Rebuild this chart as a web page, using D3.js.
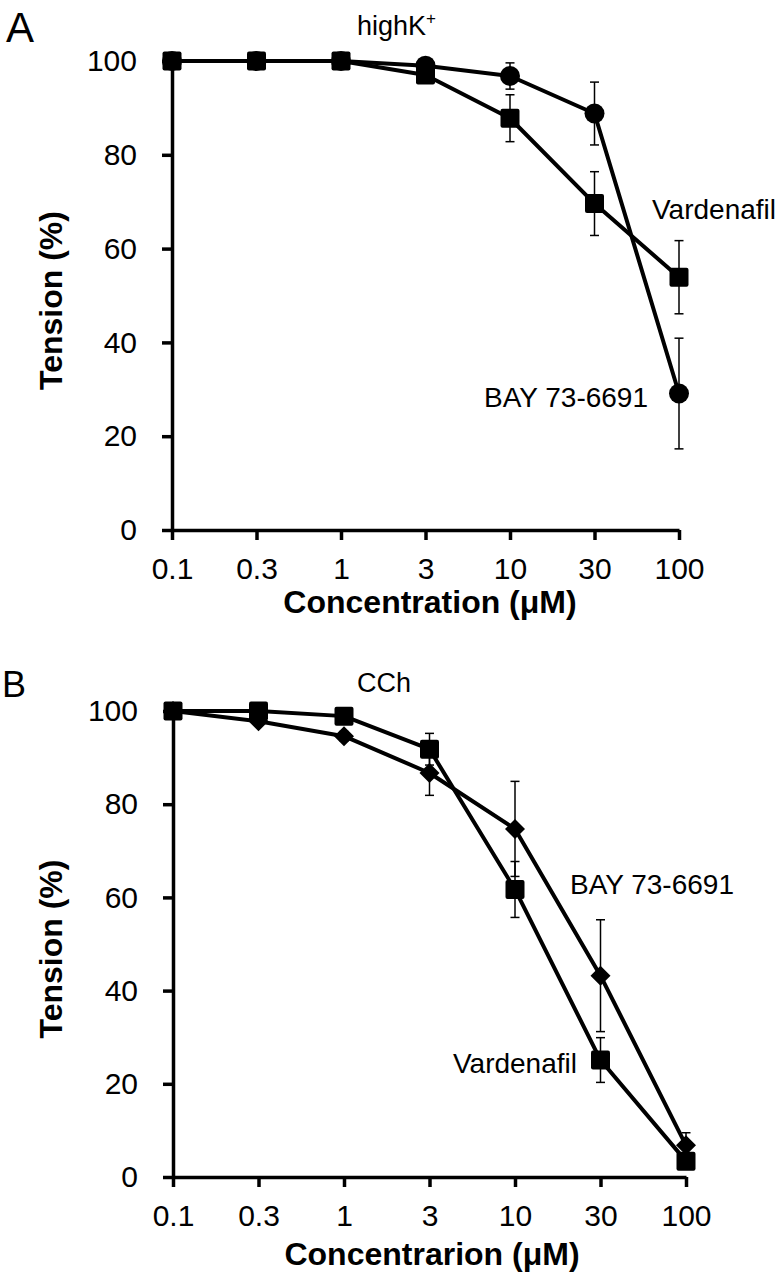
<!DOCTYPE html>
<html>
<head>
<meta charset="utf-8">
<script src="https://cdn.jsdelivr.net/npm/d3@7"></script>
<style>
  html, body { margin: 0; padding: 0; background: #fff; }
  svg { display: block; }
  text { font-family: "Liberation Sans", Arial, sans-serif; fill: #000; }
</style>
</head>
<body>
<div id="chart"></div>
<script>
// ---- Data ----
const concentrations = ["0.1", "0.3", "1", "3", "10", "30", "100"];
const yTicks = [0, 20, 40, 60, 80, 100];

// Panel A (highK+)
const aBayValues = [100, 100, 100, 99, 96.8, 88.8, 29.1];
const aBayErrors = [0, 0, 0, 0.5, 2.8, 6.7, 11.8];
const aVardValues = [100, 100, 100, 97, 87.8, 69.6, 53.9];
const aVardErrors = [0, 0, 0, 0.5, 5, 6.8, 7.8];

// Panel B (CCh)
const bBayValues = [100, 97.8, 94.6, 86.7, 74.7, 43.2, 6.8];
const bBayErrors = [0, 0.5, 1, 4.8, 10.2, 12, 2.7];
const bVardValues = [100, 100, 98.9, 91.8, 61.7, 25.1, 3.4];
const bVardErrors = [0, 0.5, 1, 3.4, 6, 4.8, 1];

const W = 782, H = 1279;
const svg = d3.select("#chart").append("svg").attr("width", W).attr("height", H);
svg.append("rect").attr("width", W).attr("height", H).attr("fill", "#fff");

function panel(cfg) {
  const x = d3.scalePoint().domain(concentrations).range([cfg.left, cfg.right]);
  const y = d3.scaleLinear().domain([0, 100]).range([cfg.bottom, cfg.top]);
  const g = svg.append("g");

  // axes
  const ya = g.append("g").attr("transform", `translate(${cfg.left},0)`)
    .call(d3.axisLeft(y).tickValues(yTicks).tickSize(10).tickSizeOuter(0).tickPadding(25));
  const xa = g.append("g").attr("transform", `translate(0,${cfg.bottom})`)
    .call(d3.axisBottom(x).tickSize(10).tickSizeOuter(0).tickPadding(18));
  [ya, xa].forEach(a => {
    a.selectAll("path.domain").attr("stroke", "#000").attr("stroke-width", 3.5);
    a.selectAll(".tick line").attr("stroke", "#000").attr("stroke-width", 3.5);
    a.selectAll(".tick text").style("font-size", "30px").style("font-family", '"Liberation Sans", Arial, sans-serif').attr("fill", "#000");
  });
  ya.attr("font-size", null).attr("font-family", null);
  xa.attr("font-size", null).attr("font-family", null);

  const line = d3.line().x((d, i) => x(concentrations[i])).y(d => y(d));

  function series(values, errors, shape) {
    const sg = g.append("g");
    // error bars
    values.forEach((v, i) => {
      const e = errors[i];
      if (e <= 0) return;
      const cx = x(concentrations[i]);
      sg.append("line").attr("x1", cx).attr("x2", cx).attr("y1", y(v + e)).attr("y2", y(v - e))
        .attr("stroke", "#000").attr("stroke-width", 1.5);
      [v + e, v - e].forEach(t => {
        sg.append("line").attr("x1", cx - 4.5).attr("x2", cx + 4.5).attr("y1", y(t)).attr("y2", y(t))
          .attr("stroke", "#000").attr("stroke-width", 1.5);
      });
    });
    sg.append("path").datum(values).attr("d", line).attr("fill", "none")
      .attr("stroke", "#000").attr("stroke-width", 4).attr("stroke-linejoin", "round");
    values.forEach((v, i) => {
      const cx = x(concentrations[i]), cy = y(v);
      if (shape === "square") {
        sg.append("rect").attr("x", cx - 9.5).attr("y", cy - 9.5).attr("width", 19).attr("height", 19)
          .attr("rx", 2).attr("fill", "#000");
      } else if (shape === "circle") {
        sg.append("circle").attr("cx", cx).attr("cy", cy).attr("r", 10).attr("fill", "#000");
      } else {
        sg.append("path").attr("d", `M${cx},${cy - 10}L${cx + 10},${cy}L${cx},${cy + 10}L${cx - 10},${cy}Z`)
          .attr("fill", "#000");
      }
    });
  }
  cfg.series.forEach(s => series(s.values, s.errors, s.shape));

  // axis titles
  g.append("text").attr("transform", `translate(${cfg.yTitleX},${(cfg.top + cfg.bottom) / 2 + 5}) rotate(-90)`)
    .attr("text-anchor", "middle").style("font-size", "32px").style("font-weight", "bold").text("Tension (%)");
  g.append("text").attr("x", cfg.xTitleCx).attr("y", cfg.xTitleY)
    .attr("text-anchor", "middle").style("font-size", "32px").style("font-weight", "bold").text(cfg.xTitle);

  // panel letter
  g.append("text").attr("x", cfg.letterX).attr("y", cfg.letterY).style("font-size", cfg.letterSize + "px").text(cfg.letter);

  // annotations
  cfg.labels.forEach(l => {
    const t = g.append("text").attr("x", l.x).attr("y", l.y).attr("text-anchor", l.anchor || "start")
      .style("font-size", (l.size || 28) + "px");
    t.append("tspan").text(l.text);
    if (l.sup) t.append("tspan").attr("dy", -11).style("font-size", "17px").text(l.sup);
  });
}

panel({
  left: 172, right: 679, top: 61, bottom: 530,
  yTitleX: 62, xTitleCx: 430, xTitleY: 613, xTitle: "Concentration (μM)",
  letter: "A", letterX: 6, letterY: 42, letterSize: 42,
  series: [
    { values: aBayValues, errors: aBayErrors, shape: "circle" },
    { values: aVardValues, errors: aVardErrors, shape: "square" }
  ],
  labels: [
    { text: "highK", sup: "+", x: 357, y: 35, size: 27 },
    { text: "Vardenafil", x: 652, y: 219 },
    { text: "BAY 73-6691", x: 648, y: 407, anchor: "end" }
  ]
});

panel({
  left: 173, right: 686, top: 711, bottom: 1177,
  yTitleX: 62, xTitleCx: 432, xTitleY: 1265, xTitle: "Concentrarion (μM)",
  letter: "B", letterX: 2, letterY: 697, letterSize: 36,
  series: [
    { values: bBayValues, errors: bBayErrors, shape: "diamond" },
    { values: bVardValues, errors: bVardErrors, shape: "square" }
  ],
  labels: [
    { text: "CCh", x: 357, y: 692, size: 27 },
    { text: "BAY 73-6691", x: 570, y: 894 },
    { text: "Vardenafil", x: 577, y: 1073, anchor: "end" }
  ]
});
</script>
</body>
</html>
